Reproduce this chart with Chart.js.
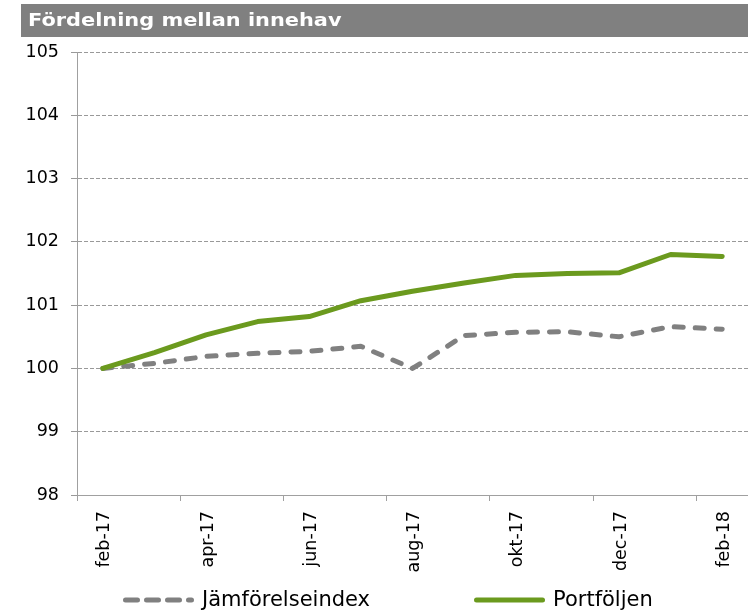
<!DOCTYPE html>
<html>
<head>
<meta charset="utf-8">
<script src="https://cdn.jsdelivr.net/npm/chart.js@4"></script>
<style>
html,body{margin:0;padding:0;background:#fff;}
#wrap{width:748px;height:611px;position:relative;}
</style>
</head>
<body>
<div id="wrap"><canvas id="c" width="748" height="611"></canvas></div>
<script>
// ---- data ----
const chartTitle = 'Fördelning mellan innehav';
const months = ['feb-17','mar-17','apr-17','maj-17','jun-17','jul-17','aug-17','sep-17','okt-17','nov-17','dec-17','jan-18','feb-18'];
const jamforelseindex = [100.00,100.08,100.19,100.24,100.27,100.35,100.00,100.52,100.57,100.58,100.50,100.66,100.62];
const portfoljen = [100.00,100.25,100.53,100.74,100.82,101.07,101.22,101.35,101.47,101.50,101.51,101.80,101.77];
const seriesNames = ['Jämförelseindex','Portföljen'];
const yMin = 98, yMax = 105, yStep = 1;

const GRAY = '#808080';
const GREEN = '#6b9a1e';
const FONT = '"DejaVu Sans", Verdana, sans-serif';

const decor = {
  id: 'decor',
  beforeDraw(chart) {
    const ctx = chart.ctx;
    ctx.save();
    ctx.fillStyle = '#ffffff';
    ctx.fillRect(0, 0, chart.width, chart.height);
    ctx.fillStyle = '#808080';
    ctx.fillRect(21, 4, chart.width - 21, 33);
    ctx.fillStyle = '#ffffff';
    ctx.font = 'bold 18px ' + FONT;
    ctx.textBaseline = 'middle';
    ctx.textAlign = 'left';
    ctx.translate(28, 21);
    ctx.scale(1.16, 1);
    ctx.fillText(chartTitle, 0, 0);
    ctx.restore();
  },
  afterDraw(chart) {
    const ctx = chart.ctx;
    const y = 600;
    const lineLen = 71;
    const textGap = 8;
    const itemGap = 104;
    let x = 123;
    ctx.save();
    ctx.font = '21px ' + FONT;
    ctx.textBaseline = 'middle';
    ctx.textAlign = 'left';
    chart.data.datasets.forEach(ds => {
      ctx.save();
      ctx.strokeStyle = ds.borderColor;
      ctx.lineWidth = ds.borderWidth;
      ctx.lineCap = 'round';
      ctx.setLineDash(ds.borderDash ? [12, 9] : []);
      ctx.beginPath();
      ctx.moveTo(x + 2.5, y);
      ctx.lineTo(x + lineLen - 2.5, y);
      ctx.stroke();
      ctx.restore();
      ctx.fillStyle = '#000';
      ctx.fillText(ds.label, x + lineLen + textGap, y + 1);
      x += lineLen + textGap + ctx.measureText(ds.label).width + itemGap;
    });
    ctx.restore();
  }
};

new Chart(document.getElementById('c'), {
  type: 'line',
  data: {
    labels: months,
    datasets: [
      {
        label: seriesNames[0],
        data: jamforelseindex,
        borderColor: GRAY,
        backgroundColor: GRAY,
        borderWidth: 5,
        borderDash: [9, 12],
        borderCapStyle: 'round',
        borderJoinStyle: 'round',
        pointRadius: 0,
        tension: 0,
        fill: false,
        order: 2
      },
      {
        label: seriesNames[1],
        data: portfoljen,
        borderColor: GREEN,
        backgroundColor: GREEN,
        borderWidth: 5,
        borderCapStyle: 'round',
        borderJoinStyle: 'round',
        pointRadius: 0,
        tension: 0,
        fill: false,
        order: 1
      }
    ]
  },
  options: {
    responsive: false,
    animation: false,
    devicePixelRatio: 1,
    layout: { padding: { top: 52, left: 0, right: 0, bottom: 36 } },
    plugins: {
      legend: { display: false },
      title: { display: false },
      tooltip: { enabled: false }
    },
    scales: {
      x: {
        type: 'category',
        offset: true,
        grid: {
          offset: true,
          drawOnChartArea: false,
          tickLength: 6,
          tickColor: c => (c.index % 2 === 0 ? '#a0a0a0' : 'rgba(0,0,0,0)')
        },
        border: { color: '#a0a0a0', width: 1 },
        ticks: {
          autoSkip: false,
          minRotation: 90,
          maxRotation: 90,
          padding: 10,
          labelOffset: 2,
          color: '#000',
          font: { family: FONT, size: 17.5 },
          callback: (v, i) => (i % 2 === 0 ? months[i] : '')
        },
        afterFit: s => { s.height = 80; s.paddingRight = 0; s.paddingLeft = 0; }
      },
      y: {
        min: yMin,
        max: yMax,
        grid: {
          color: '#999999',
          tickLength: 6,
          tickColor: '#999999'
        },
        border: { color: '#a0a0a0', width: 1, dash: [4, 2] },
        ticks: {
          stepSize: yStep,
          padding: 12,
          color: '#000',
          font: { family: FONT, size: 17.5 }
        },
        afterFit: s => { s.width = 77; }
      }
    }
  },
  plugins: [decor]
});
</script>
</body>
</html>
